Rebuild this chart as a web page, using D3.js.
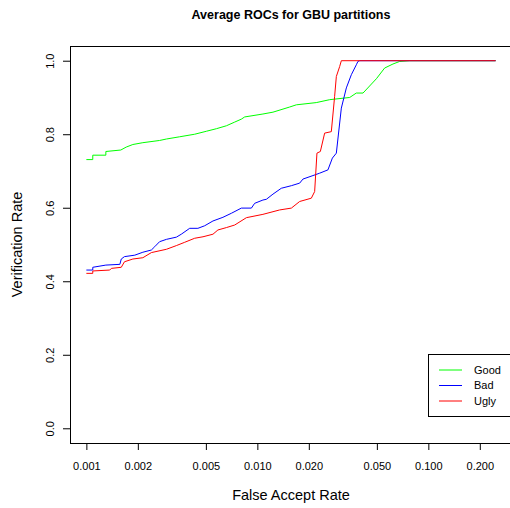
<!DOCTYPE html>
<html>
<head>
<meta charset="utf-8">
<script src="https://cdn.jsdelivr.net/npm/d3@7"></script>
<style>
  body { margin: 0; background: #fff; }
  svg { display: block; font-family: "Liberation Sans", Arial, sans-serif; }
</style>
</head>
<body>
<svg id="roc" width="510" height="508"></svg>
<script>
// series: false accept rate / verification rate
var goodFar = [0.00100, 0.00109, 0.00109, 0.00130, 0.00130, 0.00159, 0.00171, 0.00187, 0.00214, 0.00268,
    0.00294, 0.00351, 0.00430, 0.00503, 0.00576, 0.00659, 0.00737, 0.00806, 0.00843, 0.01078,
    0.01234, 0.01545, 0.0169, 0.0221, 0.0265, 0.0347, 0.0379, 0.0415, 0.0497, 0.0555,
    0.0621, 0.0680, 0.0777, 0.2475];
var goodVr = [0.731, 0.731, 0.743, 0.743, 0.753, 0.757, 0.765, 0.772, 0.777, 0.783,
    0.787, 0.793, 0.800, 0.808, 0.815, 0.823, 0.833, 0.841, 0.847, 0.855,
    0.860, 0.874, 0.880, 0.886, 0.894, 0.900, 0.912, 0.912, 0.951, 0.980,
    0.991, 0.998, 1.0, 1.0];

var badFar = [0.00100, 0.00109, 0.00109, 0.00130, 0.00157, 0.00160, 0.00167, 0.00192, 0.00214, 0.00240,
    0.00251, 0.00268, 0.00294, 0.00336, 0.00359, 0.00402, 0.00449, 0.00492, 0.00550, 0.00629,
    0.00705, 0.00806, 0.00923, 0.00964, 0.01078, 0.01129, 0.01234, 0.01381, 0.01581, 0.01768,
    0.01848, 0.02114, 0.02314, 0.02587, 0.02746, 0.02897, 0.03099, 0.03315, 0.03546, 0.03793,
    0.03875, 0.0397, 0.2475];
var badVr = [0.4305, 0.4305, 0.438, 0.444, 0.446, 0.4605, 0.467, 0.471, 0.479, 0.485,
    0.494, 0.5076, 0.514, 0.520, 0.528, 0.544, 0.544, 0.551, 0.564, 0.574,
    0.585, 0.599, 0.599, 0.612, 0.621, 0.623, 0.637, 0.653, 0.660, 0.667,
    0.678, 0.6875, 0.694, 0.703, 0.735, 0.7485, 0.871, 0.926, 0.962, 0.989,
    0.998, 1.0, 1.0];

var uglyFar = [0.00100, 0.00109, 0.00109, 0.00137, 0.00140, 0.00160, 0.00167, 0.00187, 0.00214, 0.00240,
    0.00294, 0.00336, 0.00376, 0.00430, 0.00481, 0.00550, 0.00588, 0.00659, 0.00737, 0.00863,
    0.01078, 0.0135, 0.01581, 0.01768, 0.02069, 0.02163, 0.02231, 0.02336, 0.02475, 0.02708,
    0.02831, 0.02897, 0.03029, 0.03099, 0.2475];
var uglyVr = [0.4215, 0.4215, 0.428, 0.4305, 0.435, 0.438, 0.453, 0.4605, 0.464, 0.478,
    0.487, 0.497, 0.506, 0.517, 0.521, 0.528, 0.5395, 0.546, 0.553, 0.573,
    0.582, 0.594, 0.599, 0.617, 0.626, 0.644, 0.7485, 0.753, 0.803, 0.807,
    0.903, 0.957, 0.984, 1.0, 1.0];

var seriesNames = ["Good", "Bad", "Ugly"];
var seriesColors = ["#00ff00", "#0000ff", "#ff0000"];
var xTicks = [0.001, 0.002, 0.005, 0.010, 0.020, 0.050, 0.100, 0.200];
var xTickLabels = ["0.001", "0.002", "0.005", "0.010", "0.020", "0.050", "0.100", "0.200"];
var yTicks = [0, 0.2, 0.4, 0.6, 0.8, 1.0];

function zip(xs, ys) {
    return xs.map(function(d, i) { return { far: d, vr: ys[i] }; });
}

var series = [zip(goodFar, goodVr), zip(badFar, badVr), zip(uglyFar, uglyVr)];

var svg = d3.select("svg#roc");
var box = { left: 70, right: 512, top: 46, bottom: 443 };

// R style: 4% padding on each side of the data range
var lx0 = Math.log10(0.001), lx1 = Math.log10(0.2475), pad = (lx1 - lx0) * 0.04;
var x = d3.scaleLog()
    .domain([Math.pow(10, lx0 - pad), Math.pow(10, lx1 + pad)])
    .range([box.left, box.right]);
var y = d3.scaleLinear()
    .domain([-0.04, 1.04])
    .range([box.bottom, box.top]);

// title
svg.append("text")
    .attr("x", (box.left + box.right) / 2)
    .attr("y", 19)
    .attr("text-anchor", "middle")
    .attr("font-weight", "bold")
    .attr("font-size", "12.5px")
    .attr("fill", "#000")
    .text("Average ROCs for GBU partitions");

// axes
var xAxis = svg.append("g")
    .attr("transform", "translate(0," + box.bottom + ")")
    .call(d3.axisBottom(x).tickValues(xTicks)
        .tickFormat(function(d, i) { return xTickLabels[i]; })
        .tickSize(7).tickPadding(12));
xAxis.select(".domain").remove();
xAxis.selectAll("text").attr("font-size", "11px").attr("font-family", "Liberation Sans, Arial, sans-serif");

var yAxis = svg.append("g")
    .attr("transform", "translate(" + box.left + ",0)")
    .call(d3.axisLeft(y).tickValues(yTicks)
        .tickFormat(d3.format(".1f"))
        .tickSize(7).tickPadding(0));
yAxis.select(".domain").remove();
yAxis.selectAll(".tick text")
    .attr("font-size", "11px")
    .attr("font-family", "Liberation Sans, Arial, sans-serif")
    .attr("text-anchor", "middle")
    .attr("dy", "0")
    .attr("x", 0)
    .attr("transform", "translate(-16,0) rotate(-90)");

// plot box
svg.append("rect")
    .attr("x", box.left + 0.5)
    .attr("y", box.top + 0.5)
    .attr("width", box.right - box.left)
    .attr("height", box.bottom - box.top)
    .attr("fill", "none")
    .attr("stroke", "#000")
    .attr("stroke-width", 1);

// axis labels
svg.append("text")
    .attr("x", (box.left + box.right) / 2)
    .attr("y", 500)
    .attr("text-anchor", "middle")
    .attr("font-size", "14.5px")
    .attr("fill", "#000")
    .text("False Accept Rate");

svg.append("text")
    .attr("transform", "translate(22," + (box.top + box.bottom) / 2 + ") rotate(-90)")
    .attr("text-anchor", "middle")
    .attr("font-size", "14.5px")
    .attr("fill", "#000")
    .text("Verification Rate");

// curves
var line = d3.line()
    .x(function(d) { return x(d.far); })
    .y(function(d) { return y(d.vr); });

svg.append("g")
    .selectAll("path")
    .data(series)
    .enter()
    .append("path")
    .attr("d", line)
    .attr("fill", "none")
    .attr("stroke", function(d, i) { return seriesColors[i]; })
    .attr("stroke-width", 1);

// legend
var legend = svg.append("g").attr("transform", "translate(428,354)");
legend.append("rect")
    .attr("x", 0.5)
    .attr("y", 0.5)
    .attr("width", 84)
    .attr("height", 62)
    .attr("fill", "#fff")
    .attr("stroke", "#000");

var rows = legend.selectAll("g.row")
    .data(seriesNames)
    .enter()
    .append("g")
    .attr("class", "row")
    .attr("transform", function(d, i) { return "translate(0," + (16 + i * 15.5) + ")"; });

rows.append("line")
    .attr("x1", 11)
    .attr("x2", 34)
    .attr("stroke", function(d, i) { return seriesColors[i]; })
    .attr("stroke-width", 1);

rows.append("text")
    .attr("x", 46)
    .attr("dy", "0.35em")
    .attr("font-size", "11px")
    .attr("fill", "#000")
    .text(function(d) { return d; });
</script>
</body>
</html>
